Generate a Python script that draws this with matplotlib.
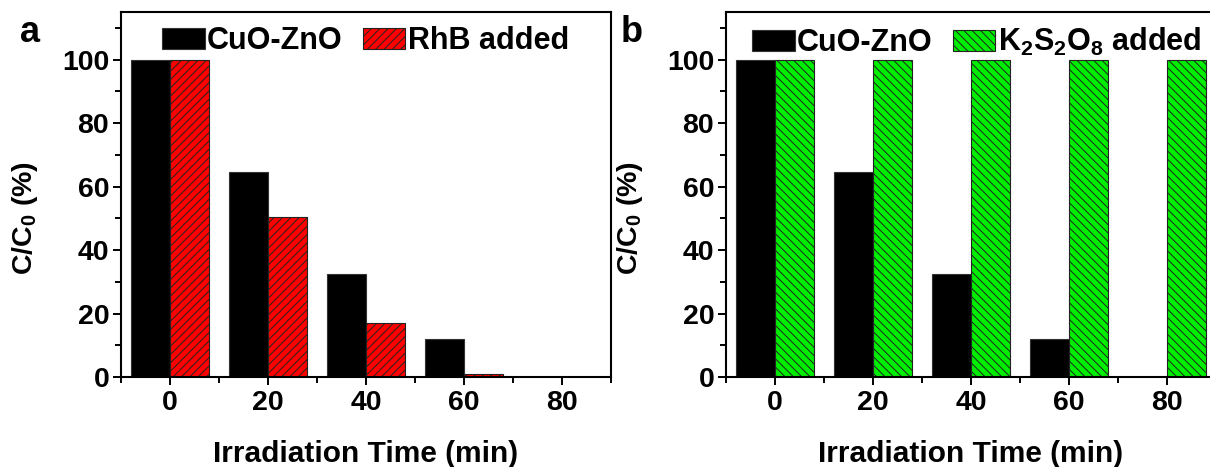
import matplotlib
matplotlib.use("Agg")
import matplotlib.pyplot as plt
from matplotlib.ticker import MultipleLocator

times = [0, 20, 40, 60, 80]
cuo_zno = [100, 64.5, 32.5, 12, 0]
rhb_added = [100, 50.5, 17, 0.8, 0]
k2s2o8_added = [100, 100, 100, 100, 100]
x_ticks = [0, 20, 40, 60, 80]
y_ticks = [0, 20, 40, 60, 80, 100]

FONT = ['Liberation Sans', 'DejaVu Sans']
plt.rcParams['font.family'] = FONT
plt.rcParams['font.weight'] = 'bold'
plt.rcParams['mathtext.fontset'] = 'custom'
plt.rcParams['mathtext.rm'] = 'Liberation Sans:bold'
plt.rcParams['mathtext.bf'] = 'Liberation Sans:bold'
plt.rcParams['mathtext.it'] = 'Liberation Sans:bold'
plt.rcParams['hatch.linewidth'] = 0.7

W, H = 1210, 467
fig = plt.figure(figsize=(W / 100, H / 100), dpi=100)

def px_axes(l, t, r, b):
    return fig.add_axes([l / W, 1 - b / H, (r - l) / W, (b - t) / H])

axA = px_axes(121, 12, 611, 377)
axB = px_axes(726, 12, 1216, 377)

def style(ax, letter, letter_x):
    ax.set_xlim(-10, 90)
    ax.set_ylim(0, 115)
    ax.set_xticks(x_ticks)
    ax.set_yticks(y_ticks)
    ax.xaxis.set_minor_locator(MultipleLocator(10))
    ax.yaxis.set_minor_locator(MultipleLocator(10))
    ax.tick_params(which='major', direction='out', length=6, width=1.4, labelsize=20.5)
    ax.tick_params(axis='y', which='major', pad=2.5)
    ax.tick_params(axis='x', which='major', pad=3)
    ax.tick_params(which='minor', direction='out', length=4, width=1.4)
    for lab in ax.get_xticklabels() + ax.get_yticklabels():
        lab.set_fontweight('bold')
    for s in ax.spines.values():
        s.set_linewidth(1.5)
    ax.set_xlabel('Irradiation Time (min)', fontsize=21.5, fontweight='bold', labelpad=18)
    ax.set_ylabel(r'C/C$_\mathbf{0}$ (%)', fontsize=20.5, fontweight='bold')
    ax.yaxis.label.set_verticalalignment('center')
    ax.yaxis.set_label_coords((25 - 121) / 490, (377 - 218) / 365)
    fig.text(letter_x / W, 1 - 32 / H, letter, fontsize=26, fontweight='bold',
             ha='center', va='center')

LEG = dict(loc='upper left', ncol=2, frameon=False, borderpad=0, borderaxespad=0,
           prop={'size': 22, 'weight': 'bold', 'family': FONT},
           handlelength=1.4, handleheight=0.7, handletextpad=0.08, columnspacing=0.65)

w = 8
# Panel a
axA.bar([t - w for t in times], cuo_zno, width=w, align='edge', color='black',
        edgecolor='#333333', linewidth=0.8, label='CuO-ZnO')
axA.bar(times, rhb_added, width=w, align='edge', color='#ff0000',
        edgecolor='#222222', linewidth=0.8, hatch='////', label='RhB added')
style(axA, 'a', 30)
axA.legend(bbox_to_anchor=(162 / W, 1 - 26 / H), bbox_transform=fig.transFigure, **LEG)

# Panel b
axB.bar([t - w for t in times], cuo_zno, width=w, align='edge', color='black',
        edgecolor='#333333', linewidth=0.8, label='CuO-ZnO')
axB.bar(times, k2s2o8_added, width=w, align='edge', color='#00ee00',
        edgecolor='#222222', linewidth=0.8, hatch='\\\\\\\\',
        label=r'K$_\mathbf{2}$S$_\mathbf{2}$O$_\mathbf{8}$ added')
style(axB, 'b', 632)
axB.legend(bbox_to_anchor=(752 / W, 1 - 26 / H), bbox_transform=fig.transFigure, **LEG)

fig.savefig('out.png', dpi=100)
